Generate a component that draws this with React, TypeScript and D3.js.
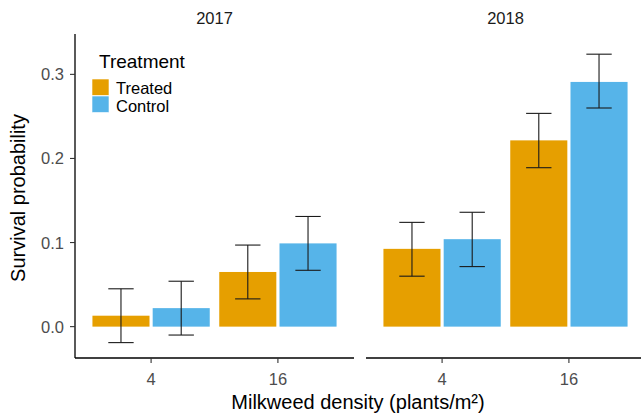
import React from "react";
import * as d3 from "d3";

const years = ["2017", "2018"];
const densities = ["4", "16"];
const treatments = ["Treated", "Control"];
const colors = ["#E69F00", "#56B4E9"];
// values[density][treatment]
const survival2017 = [[0.013, 0.022], [0.065, 0.099]];
const survival2018 = [[0.0925, 0.104], [0.2215, 0.291]];
const lower2017 = [[-0.019, -0.010], [0.033, 0.067]];
const lower2018 = [[0.060, 0.0714], [0.189, 0.260]];
const upper2017 = [[0.045, 0.054], [0.097, 0.131]];
const upper2018 = [[0.124, 0.136], [0.2536, 0.324]];
const yTicks = [0, 0.1, 0.2, 0.3];

const W = 641, H = 416;
const FONT = "'Liberation Sans', Arial, Helvetica, sans-serif";

export default function App() {
  const y = d3.scaleLinear().domain([-0.0373, 0.348]).range([358, 34]);
  const panels = [
    { year: years[0], vals: survival2017, lo: lower2017, hi: upper2017, x0: 75, x1: 354 },
    { year: years[1], vals: survival2018, lo: lower2018, hi: upper2018, x0: 366, x1: 645 },
  ];
  const fmt = d3.format(".1f");
  return (
    <svg width={W} height={H} style={{ position: "absolute", left: 0, top: 0, background: "#fff" }} fontFamily={FONT}>
      <rect width={W} height={H} fill="#fff" />
      {panels.map((p, pi) => {
        const x = d3.scalePoint<string>().domain(densities).range([p.x0, p.x1]).padding(0.6);
        const step = x.step();
        const dodge = d3.scaleBand<string>().domain(treatments).range([-0.475 * step, 0.475 * step]);
        const barW = 0.45 * step;
        const ebW = 0.2 * step;
        return (
          <g key={p.year}>
            <text x={(p.x0 + p.x1) / 2} y={24} textAnchor="middle" fontSize={16.5} fill="#1a1a1a">{p.year}</text>
            {densities.map((d, di) =>
              treatments.map((t, ti) => {
                const cx = (x(d) as number) + (dodge(t) as number) + dodge.bandwidth() / 2;
                const v = p.vals[di][ti];
                return (
                  <rect key={d + t} x={cx - barW / 2} y={y(v)} width={barW} height={y(0) - y(v)} fill={colors[ti]} />
                );
              })
            )}
            {densities.map((d, di) =>
              treatments.map((t, ti) => {
                const cx = (x(d) as number) + (dodge(t) as number) + dodge.bandwidth() / 2;
                const lo = p.lo[di][ti], hi = p.hi[di][ti];
                return (
                  <g key={"e" + d + t} stroke="#1a1a1a" strokeWidth={1.1} fill="none">
                    <line x1={cx} x2={cx} y1={y(lo)} y2={y(hi)} />
                    <line x1={cx - ebW / 2} x2={cx + ebW / 2} y1={y(hi)} y2={y(hi)} />
                    <line x1={cx - ebW / 2} x2={cx + ebW / 2} y1={y(lo)} y2={y(lo)} />
                  </g>
                );
              })
            )}
            <line x1={p.x0} x2={p.x1} y1={358} y2={358} stroke="#000" strokeWidth={1.3} />
            {densities.map((d) => (
              <g key={"t" + d}>
                <line x1={x(d)} x2={x(d)} y1={358} y2={363} stroke="#333" strokeWidth={1.1} />
                <text x={x(d)} y={385} textAnchor="middle" fontSize={16.5} fill="#4d4d4d">{d}</text>
              </g>
            ))}
            {pi === 0 && (
              <g>
                <line x1={75} x2={75} y1={34} y2={358} stroke="#000" strokeWidth={1.3} />
                {yTicks.map((t) => (
                  <g key={t}>
                    <line x1={70} x2={75} y1={y(t)} y2={y(t)} stroke="#333" strokeWidth={1.1} />
                    <text x={64} y={y(t) + 6} textAnchor="end" fontSize={16.5} fill="#4d4d4d">{fmt(t)}</text>
                  </g>
                ))}
              </g>
            )}
          </g>
        );
      })}
      <text transform="translate(25,198) rotate(-90)" textAnchor="middle" fontSize={20} fill="#000">Survival probability</text>
      <text x={358} y={409} textAnchor="middle" fontSize={20} fill="#000">Milkweed density (plants/m²)</text>
      <g>
        <text x={99} y={68} fontSize={19} fill="#000">Treatment</text>
        {treatments.map((t, i) => (
          <g key={t}>
            <rect x={92} y={79 + i * 17} width={17} height={16.5} fill={colors[i]} stroke="#fff" strokeWidth={0.6} />
            <text x={116} y={94 + i * 17.5} fontSize={16.5} fill="#000">{t}</text>
          </g>
        ))}
      </g>
    </svg>
  );
}
